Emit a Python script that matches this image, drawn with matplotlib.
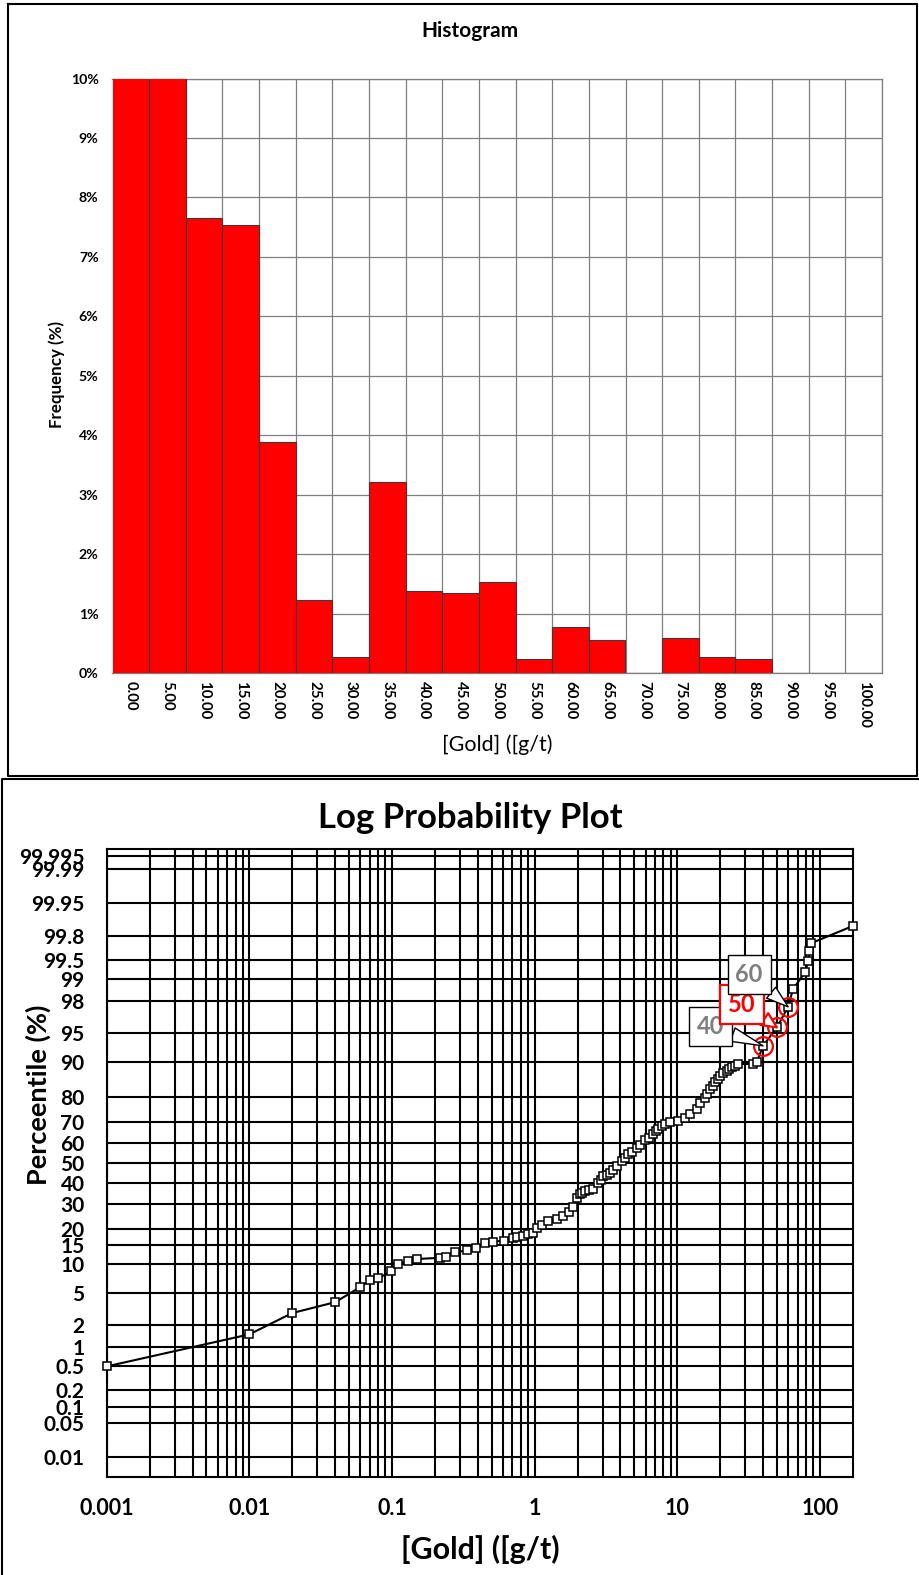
import numpy as np
import matplotlib
matplotlib.use("Agg")
import matplotlib.pyplot as plt
from matplotlib.lines import Line2D
from matplotlib.ticker import FixedLocator, FixedFormatter, LogLocator, NullFormatter
from statistics import NormalDist

plt.rcParams['font.family'] = ['Lato', 'DejaVu Sans']

# histogram data: grade bins (g/t) and frequency (%)
bin_labels = ['0.00', '5.00', '10.00', '15.00', '20.00', '25.00', '30.00', '35.00',
              '40.00', '45.00', '50.00', '55.00', '60.00', '65.00', '70.00', '75.00',
              '80.00', '85.00', '90.00', '95.00', '100.00']
freq_pct = [55.0, 14.3, 7.66, 7.53, 3.89, 1.23, 0.27, 3.21, 1.38, 1.35, 1.53,
            0.23, 0.78, 0.55, 0.0, 0.59, 0.27, 0.24, 0.0, 0.0, 0.0]

# cumulative distribution: gold grade (g/t) vs percentile (%)
gold_gt = [0.001, 0.01, 0.02, 0.04, 0.06, 0.07, 0.08, 0.099, 0.111, 0.13, 0.15,
           0.217, 0.239, 0.277, 0.335, 0.389, 0.45, 0.509, 0.611, 0.71, 0.757,
           0.826, 0.905, 0.97, 1.035, 1.12, 1.25, 1.43, 1.58, 1.75, 1.87, 1.98,
           2.08, 2.15, 2.26, 2.4, 2.58, 2.8, 2.9, 3.03, 3.2, 3.38, 3.55, 3.77,
           4.08, 4.3, 4.54, 4.8, 5.21, 5.5, 5.96, 6.3, 6.81, 7.1, 7.38, 7.8,
           8.2, 8.92, 10.2, 11.3, 12.3, 13.7, 14.5, 15.7, 16.3, 17.0, 17.7,
           18.5, 19.2, 20.0, 21.0, 22.3, 23.2, 24.2, 25.5, 26.9, 34.2, 36.1,
           40.0, 50.0, 60.0, 64.7, 78.9, 83.2, 84.6, 86.5, 170.0]
cum_pct = [0.5, 1.5, 2.87, 3.9, 5.8, 6.9, 7.2, 8.5, 10.1, 10.7, 11.2,
           11.5, 11.6, 12.9, 13.4, 14.1, 15.5, 15.9, 16.3, 17.0, 17.4,
           17.9, 18.5, 18.9, 20.6, 21.8, 23.1, 24.1, 24.9, 26.8, 28.8, 33.0,
           34.6, 35.3, 36.1, 36.5, 36.9, 40.1, 41.5, 43.5, 44.2, 45.1, 46.5, 48.5,
           51.0, 52.5, 54.4, 55.5, 57.7, 59.0, 61.3, 62.5, 64.2, 65.5, 66.6, 68.1,
           68.8, 69.6, 70.3, 71.7, 73.2, 75.2, 77.5, 79.6, 81.0, 82.5, 83.5,
           84.6, 85.5, 86.5, 87.2, 87.8, 88.3, 88.7, 89.1, 89.5, 89.5, 89.9,
           93.1, 95.7, 97.6, 98.6, 99.22, 99.48, 99.64, 99.73, 99.865]

# cut-off grades flagged on the probability plot
cutoff_gt = [40.0, 50.0, 60.0]
cutoff_pct = [93.1, 95.7, 97.6]
cutoff_txt = ['40', '50', '60']
cutoff_col = ['#7f7f7f', '#ff0000', '#7f7f7f']
cutoff_edge = ['black', '#ff0000', 'black']
cutoff_off = [(-37.7, 13.9), (-25.2, 16.6), (-28.1, 23.3)]

pct_ticks = [99.995, 99.99, 99.95, 99.8, 99.5, 99, 98, 95, 90, 80, 70, 60, 50,
             40, 30, 20, 15, 10, 5, 2, 1, 0.5, 0.2, 0.1, 0.05, 0.01]
pct_labels = ['99.995', '99.99', '99.95', '99.8', '99.5', '99', '98', '95', '90',
              '80', '70', '60', '50', '40', '30', '20', '15', '10', '5', '2', '1',
              '0.5', '0.2', '0.1', '0.05', '0.01']
gold_ticks = [0.001, 0.01, 0.1, 1, 10, 100]

nd = NormalDist()
_ppf = np.vectorize(lambda v: nd.inv_cdf(v / 100.0), otypes=[float])
_cdf = np.vectorize(lambda v: nd.cdf(v) * 100.0, otypes=[float])


def probit(p):
    p = np.clip(np.asarray(p, dtype=float), 1e-7, 100 - 1e-7)
    return _ppf(p)


def inv_probit(z):
    return _cdf(np.asarray(z, dtype=float))


W, H = 919, 1575
fig = plt.figure(figsize=(W / 100, H / 100), dpi=100)


def fx(px):
    return px / W


def fy(py):
    return 1 - py / H


# ---- histogram ----
ax1 = fig.add_axes([fx(112.5), fy(673), fx(882 - 112.5), (673 - 78.5) / H])
pos = np.arange(len(bin_labels))
ax1.bar(pos, freq_pct, width=1.0, color='#ff0000', edgecolor='#3a3a3a',
        linewidth=0.8, zorder=3)
ax1.set_xlim(-0.5, len(bin_labels) - 0.5)
ax1.set_ylim(0, 10)
ax1.set_yticks(np.arange(0, 11))
ax1.set_yticklabels(['%d%%' % v for v in range(0, 11)], fontweight='bold', fontsize=10.2)
ax1.set_xticks(pos)
ax1.set_xticklabels(bin_labels, rotation=270, fontweight='bold', fontsize=10.8)
ax1.set_xticks(np.arange(-0.5, len(bin_labels)), minor=True)
ax1.grid(axis='y', which='major', color='#7f7f7f', lw=0.9, zorder=0)
ax1.grid(axis='x', which='minor', color='#7f7f7f', lw=0.9, zorder=0)
ax1.tick_params(which='both', length=0)
ax1.tick_params(axis='y', pad=10)
ax1.tick_params(axis='x', pad=6)
for s in ax1.spines.values():
    s.set_color('#7f7f7f')
    s.set_linewidth(0.9)
ax1.set_axisbelow(True)

fig.text(fx(470), fy(31), 'Histogram', ha='center', va='center',
         fontsize=15, fontweight='bold')
fig.text(fx(497), fy(745), '[Gold] ([g/t)', ha='center', va='center', fontsize=15.5)
fig.text(fx(56.6), fy(375), 'Frequency (%)', ha='center', va='center',
         fontsize=12.2, fontweight='bold', rotation=90)

# ---- log probability plot ----
ax2 = fig.add_axes([fx(106.7), fy(1477.3), fx(852.7 - 106.7), (1477.3 - 849.3) / H])
ax2.set_xscale('log')
ax2.set_yscale('function', functions=(probit, inv_probit))
ax2.set_xlim(0.001, 170)
ax2.set_ylim(nd.cdf(-3.98) * 100, nd.cdf(3.972) * 100)

ax2.xaxis.set_major_locator(FixedLocator(gold_ticks))
ax2.xaxis.set_major_formatter(FixedFormatter(['%g' % v for v in gold_ticks]))
ax2.xaxis.set_minor_locator(LogLocator(base=10, subs=np.arange(2, 10), numticks=20))
ax2.xaxis.set_minor_formatter(NullFormatter())
ax2.yaxis.set_major_locator(FixedLocator(pct_ticks))
ax2.yaxis.set_major_formatter(FixedFormatter(pct_labels))
ax2.yaxis.set_minor_locator(FixedLocator([]))

ax2.grid(axis='x', which='both', color='black', lw=1.5, zorder=0)
ax2.grid(axis='y', which='major', color='black', lw=1.5, zorder=0)
ax2.set_axisbelow(True)
ax2.tick_params(which='both', length=0)
ax2.tick_params(axis='y', pad=16, labelsize=15)
ax2.tick_params(axis='x', pad=15, labelsize=15.5)
for lab in ax2.get_xticklabels() + ax2.get_yticklabels():
    lab.set_fontweight('bold')
for s in ax2.spines.values():
    s.set_color('black')
    s.set_linewidth(1.5)

ax2.plot(gold_gt, cum_pct, color='black', lw=1.5, marker='s', markersize=5.6,
         markerfacecolor='white', markeredgecolor='black', markeredgewidth=1.1,
         zorder=4, clip_on=False)
ax2.plot(cutoff_gt, cutoff_pct, ls='none', marker='o', markersize=13.5,
         markerfacecolor='none', markeredgecolor='#ff0000', markeredgewidth=1.6,
         zorder=5)

for g, p, t, c, e, off in zip(cutoff_gt, cutoff_pct, cutoff_txt, cutoff_col,
                              cutoff_edge, cutoff_off):
    lw = 1.6 if e != 'black' else 1.0
    ax2.annotate(t, xy=(g, p), xytext=off, textcoords='offset points',
                 ha='center', va='center', fontsize=17, fontweight='bold', color=c,
                 bbox=dict(boxstyle='square,pad=0.33', fc='white', ec=e, lw=lw),
                 arrowprops=dict(arrowstyle='wedge,tail_width=0.6,shrink_factor=0.5',
                                 fc='white', ec=e, lw=lw, shrinkA=0, shrinkB=0),
                 zorder=6)

fig.text(fx(470), fy(817.6), 'Log Probability Plot', ha='center', va='center',
         fontsize=25, fontweight='bold')
fig.text(fx(480), fy(1549), '[Gold] ([g/t)', ha='center', va='center',
         fontsize=22, fontweight='bold')
fig.text(fx(38), fy(1095), 'Perceentile (%)', ha='center', va='center',
         fontsize=19.5, fontweight='bold', rotation=90)

# panel frames
frame = dict(color='black', lw=1.5, transform=fig.transFigure)
fig.add_artist(Line2D([fx(8.3), fx(917), fx(917), fx(8.3), fx(8.3)],
                      [fy(4.3), fy(4.3), fy(775.5), fy(775.5), fy(4.3)], **frame))
fig.add_artist(Line2D([fx(1.5), fx(1.5), fx(918)],
                      [fy(1575), fy(779), fy(779)], **frame))

fig.savefig('out.png', dpi=100)
